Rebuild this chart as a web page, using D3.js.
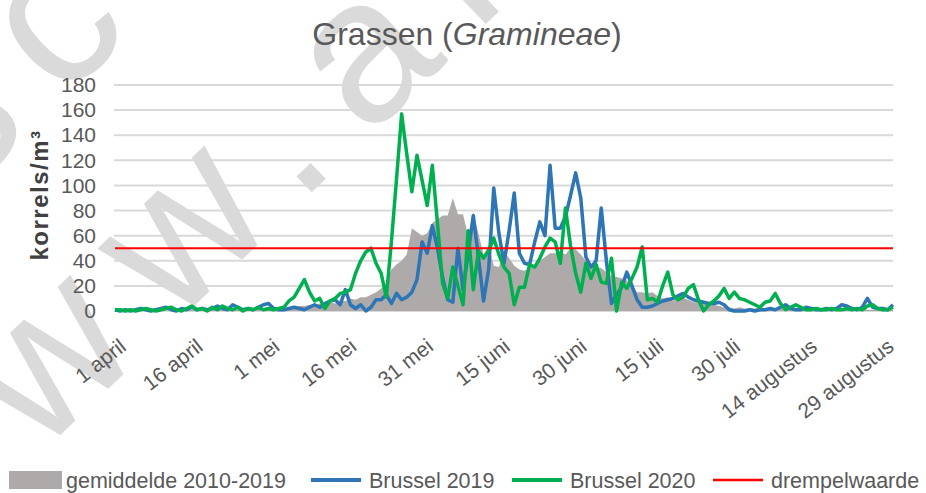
<!DOCTYPE html>
<html>
<head>
<meta charset="utf-8">
<script src="https://cdn.jsdelivr.net/npm/d3@7"></script>
<style>
  body { margin: 0; background: #fff; }
  svg { font-family: "Liberation Sans", Arial, sans-serif; }
</style>
</head>
<body>
<div id="chart"></div>
<script>
const width = 926;
const height = 493;

// dagen vanaf 1 april (index 0) t/m 31 augustus (index 152)
const gemiddelde = [
  0,0,0,1,0,0,1,0,0,1,
  0,1,1,0,1,1,1,0,1,1,
  1,1,2,1,1,2,1,1,2,2,
  2,2,2,2,3,3,4,4,5,5,
  6,5,7,6,8,8,10,9,11,11,
  13,15,18,22,33,37,40,45,66,63,
  60,62,70,73,76,76,90,77,77,60,
  78,62,45,52,36,35,48,42,36,33,
  32,34,36,40,43,46,46,47,45,50,
  49,45,40,37,35,34,31,28,27,26,
  24,20,15,15,14,15,12,10,11,8,
  11,10,9,7,7,6,6,5,4,3,
  3,2,3,2,2,2,3,2,2,1,
  2,2,1,2,1,2,1,1,2,1,
  1,2,1,1,1,1,2,1,1,1,
  1,1,1
];
const brussel2019 = [
  1,0,1,0,1,2,1,0,1,2,
  3,1,0,2,1,3,1,2,1,2,
  4,2,1,5,3,1,2,1,3,5,
  6,2,1,1,2,3,2,1,3,5,
  3,6,8,9,5,17,5,2,5,0,
  3,9,9,13,6,14,9,11,15,25,
  55,46,68,50,27,9,7,50,17,46,
  76,43,8,33,98,62,38,64,94,46,
  38,37,55,71,60,116,66,66,75,92,
  110,90,43,35,40,82,40,6,13,19,
  31,20,9,3,3,4,6,8,9,10,
  12,14,11,9,8,7,6,6,7,5,
  1,0,0,0,1,0,1,1,2,1,
  3,5,2,1,1,3,2,1,1,2,
  1,2,5,4,2,1,3,10,3,2,
  2,1,5
];
const brussel2020 = [
  1,1,0,1,0,1,2,1,0,1,
  2,3,1,0,2,4,1,2,0,3,
  1,4,2,1,3,0,2,1,3,1,
  2,1,2,3,8,11,18,25,15,8,
  10,2,8,10,14,15,17,30,40,47,
  50,38,30,11,55,105,157,125,95,124,
  104,84,116,70,22,10,35,20,5,64,
  17,48,42,48,58,45,35,30,5,19,
  19,37,35,42,51,58,55,38,82,52,
  30,15,38,26,37,23,22,42,0,23,
  18,26,35,51,9,10,7,20,31,13,
  9,11,18,21,9,0,5,8,12,18,
  10,15,10,9,7,5,3,7,8,14,
  6,1,3,5,3,1,1,2,1,1,
  2,1,1,2,1,2,1,4,5,2,
  1,1,3
];
const drempelwaarde = 50;

const tickDays = [0, 15, 30, 45, 60, 75, 90, 105, 120, 135, 150];
const tickLabels = ['1 april', '16 april', '1 mei', '16 mei', '31 mei', '15 juni',
  '30 juni', '15 juli', '30 juli', '14 augustus', '29 augustus'];
const yTicks = [0, 20, 40, 60, 80, 100, 120, 140, 160, 180];

const legendItems = [
  { name: 'gemiddelde 2010-2019', color: '#aeaaaa', type: 'area' },
  { name: 'Brussel 2019', color: '#2e75b6', type: 'line' },
  { name: 'Brussel 2020', color: '#00b050', type: 'line' },
  { name: 'drempelwaarde', color: '#ff0000', type: 'thin' }
];

let svg = d3.select('#chart').append('svg')
  .attr('width', width)
  .attr('height', height);

// watermerk
let wm = svg.append('g')
  .style('fill', '#dadada')
  .style('font-size', '205px')
  .style('letter-spacing', '38px');
wm.append('text')
  .attr('transform', 'translate(-95,585) rotate(-44)')
  .text('www.air');
wm.append('text')
  .attr('transform', 'translate(-40,200) rotate(-44)')
  .text('sc');

// schalen
let x = d3.scaleLinear().domain([0, 152]).range([115, 893]);
let y = d3.scaleLinear().domain([0, 180]).range([311, 85]);

// rasterlijnen
svg.append('g').selectAll('line')
  .data(yTicks)
  .join('line')
  .attr('x1', 114)
  .attr('x2', 893)
  .attr('y1', d => y(d))
  .attr('y2', d => y(d))
  .style('stroke', '#d9d9d9')
  .style('stroke-width', 2);

// y-as labels
let yAxis = svg.append('g')
  .attr('transform', 'translate(104,0)')
  .call(d3.axisLeft(y).tickValues(yTicks).tickSize(0).tickPadding(8));
yAxis.select('.domain').remove();
yAxis.selectAll('text')
  .style('font-family', '"Liberation Sans", Arial, sans-serif')
  .style('font-size', '21px')
  .style('fill', '#595959');

// x-as labels
let xAxis = svg.append('g')
  .attr('transform', 'translate(0,311)')
  .call(d3.axisBottom(x).tickValues(tickDays).tickSize(0)
    .tickFormat((d, i) => tickLabels[i]));
xAxis.select('.domain').remove();
xAxis.selectAll('text')
  .style('font-family', '"Liberation Sans", Arial, sans-serif')
  .style('font-size', '21px')
  .style('fill', '#595959')
  .attr('text-anchor', 'end')
  .attr('dy', null)
  .attr('y', 0)
  .attr('transform', 'translate(12,38) rotate(-38)');

// gemiddelde als vlak
let days = d3.range(gemiddelde.length);
let area = d3.area()
  .x(d => x(d))
  .y0(y(0))
  .y1(d => y(gemiddelde[d]));
svg.append('path')
  .datum(days)
  .attr('d', area)
  .style('fill', '#aeaaaa');

// lijnen
let line = data => d3.line().x((d, i) => x(i)).y(d => y(d))(data);
svg.append('path')
  .attr('d', line(brussel2019))
  .style('fill', 'none')
  .style('stroke', '#2e75b6')
  .style('stroke-width', 3.5)
  .style('stroke-linejoin', 'round');
svg.append('path')
  .attr('d', line(brussel2020))
  .style('fill', 'none')
  .style('stroke', '#00b050')
  .style('stroke-width', 3.5)
  .style('stroke-linejoin', 'round');

// drempelwaarde
svg.append('line')
  .attr('x1', x(0))
  .attr('x2', x(152))
  .attr('y1', y(drempelwaarde))
  .attr('y2', y(drempelwaarde))
  .style('stroke', '#ff0000')
  .style('stroke-width', 2);

// titel
let title = svg.append('text')
  .attr('x', 467)
  .attr('y', 45)
  .attr('text-anchor', 'middle')
  .style('font-size', '32px')
  .style('fill', '#595959');
title.append('tspan').text('Grassen (');
title.append('tspan').style('font-style', 'italic').text('Gramineae');
title.append('tspan').text(')');

// y-as titel
svg.append('text')
  .attr('transform', 'translate(48,195) rotate(-90)')
  .attr('text-anchor', 'middle')
  .style('font-size', '24px')
  .style('font-weight', 'bold')
  .style('letter-spacing', '1.5px')
  .style('fill', '#404040')
  .text('korrels/m³');

// legenda
let legendX = [9, 311, 512, 713];
let legend = svg.append('g');
legendItems.forEach((item, i) => {
  let g = legend.append('g').attr('transform', 'translate(' + legendX[i] + ',480)');
  if (item.type === 'area') {
    g.append('rect')
      .attr('x', 0).attr('y', -9)
      .attr('width', 53).attr('height', 18)
      .style('fill', item.color);
  } else {
    g.append('line')
      .attr('x1', 0).attr('x2', 50)
      .attr('y1', 0).attr('y2', 0)
      .style('stroke', item.color)
      .style('stroke-width', item.type === 'thin' ? 2.5 : 4);
  }
  g.append('text')
    .attr('x', item.type === 'area' ? 57 : 58)
    .attr('y', 8)
    .style('font-size', '21.5px')
    .style('fill', '#595959')
    .text(item.name);
});
</script>
</body>
</html>
